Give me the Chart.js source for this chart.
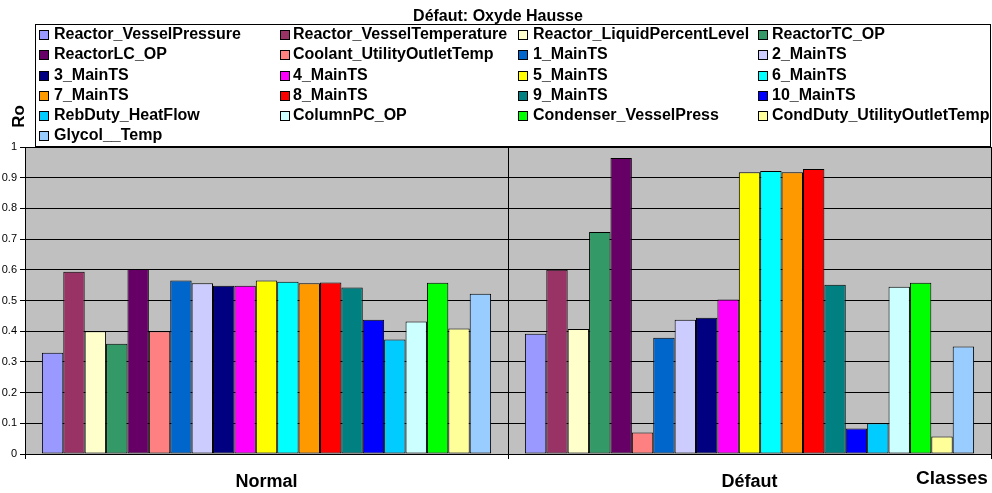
<!DOCTYPE html>
<html>
<head>
<meta charset="utf-8">
<script src="https://cdn.jsdelivr.net/npm/chart.js@4/dist/chart.umd.min.js"></script>
<style>
  html, body { margin: 0; padding: 0; background: #ffffff; }
  #wrap { width: 992px; height: 493px; }
</style>
</head>
<body>
<div id="wrap"><canvas id="c" width="992" height="493"></canvas></div>
<script>
const chartTitle = 'Défaut: Oxyde Hausse';
const yAxisTitle = 'Ro';
const xAxisTitle = 'Classes';
const categories = ['Normal', 'Défaut'];
const seriesNames = [
  'Reactor_VesselPressure', 'Reactor_VesselTemperature', 'Reactor_LiquidPercentLevel', 'ReactorTC_OP',
  'ReactorLC_OP', 'Coolant_UtilityOutletTemp', '1_MainTS', '2_MainTS',
  '3_MainTS', '4_MainTS', '5_MainTS', '6_MainTS',
  '7_MainTS', '8_MainTS', '9_MainTS', '10_MainTS',
  'RebDuty_HeatFlow', 'ColumnPC_OP', 'Condenser_VesselPress', 'CondDuty_UtilityOutletTemp',
  'Glycol__Temp'
];
const normalValues = [0.330, 0.594, 0.400, 0.359, 0.603, 0.400, 0.565, 0.556, 0.548, 0.548, 0.565,
                      0.561, 0.556, 0.559, 0.542, 0.437, 0.373, 0.432, 0.558, 0.409, 0.522];
const defautValues = [0.392, 0.600, 0.407, 0.723, 0.964, 0.070, 0.379, 0.437, 0.444, 0.503, 0.918,
                      0.922, 0.918, 0.928, 0.551, 0.083, 0.100, 0.545, 0.558, 0.057, 0.350];
const seriesColors = [
  '#9999FF', '#993366', '#FFFFCC', '#339966', '#660066', '#FF8080', '#0066CC', '#CCCCFF',
  '#000080', '#FF00FF', '#FFFF00', '#00FFFF', '#FF9900', '#FF0000', '#008080', '#0000FF',
  '#00CCFF', '#CCFFFF', '#00FF00', '#FFFF99', '#99CCFF'
];

const FONT = 'Arial, "Liberation Sans", Helvetica, sans-serif';

const datasets = seriesNames.map((name, i) => ({
  label: name,
  data: [normalValues[i], defautValues[i]],
  backgroundColor: seriesColors[i],
  borderColor: '#000000',
  borderWidth: 1,
  borderSkipped: false,
  categoryPercentage: 0.93,
  barPercentage: 1.0
}));

const plotBg = {
  id: 'plotBg',
  beforeDraw(chart) {
    const { ctx, chartArea: a } = chart;
    ctx.save();
    ctx.fillStyle = '#C0C0C0';
    ctx.fillRect(a.left, a.top, a.right - a.left, a.bottom - a.top);
    ctx.restore();
  }
};

const extras = {
  id: 'extras',
  afterDraw(chart) {
    const ctx = chart.ctx;
    ctx.save();
    // title
    ctx.fillStyle = '#000';
    ctx.font = 'bold 16px ' + FONT;
    ctx.textAlign = 'center';
    ctx.textBaseline = 'middle';
    ctx.fillText(chartTitle, 498, 16.5);

    // legend box
    ctx.fillStyle = '#ffffff';
    ctx.fillRect(35.5, 24.5, 955, 122);
    ctx.strokeStyle = '#000';
    ctx.lineWidth = 1;
    ctx.strokeRect(35.5, 24.5, 955, 122);

    const colSwatch = [39, 280, 518, 758];
    const colText = [54, 293, 533, 772];
    const rowY = [35, 55, 76, 96, 116, 136];
    ctx.font = 'bold 16px ' + FONT;
    ctx.textAlign = 'left';
    ctx.textBaseline = 'middle';
    chart.data.datasets.forEach((ds, i) => {
      const col = i % 4, row = Math.floor(i / 4);
      const y = rowY[row];
      ctx.fillStyle = ds.backgroundColor;
      ctx.fillRect(colSwatch[col] + 0.5, y - 4.5, 9, 9);
      ctx.strokeStyle = '#000';
      ctx.strokeRect(colSwatch[col] + 0.5, y - 4.5, 9, 9);
      ctx.fillStyle = '#000';
      ctx.fillText(ds.label, colText[col], y - 0.5);
    });

    // y axis title (rotated)
    ctx.save();
    ctx.translate(19, 116.5);
    ctx.rotate(-Math.PI / 2);
    ctx.font = 'bold 17px ' + FONT;
    ctx.textAlign = 'center';
    ctx.textBaseline = 'middle';
    ctx.fillStyle = '#000';
    ctx.fillText(yAxisTitle, 0, 0);
    ctx.restore();

    // x axis title
    ctx.font = 'bold 19px ' + FONT;
    ctx.textAlign = 'center';
    ctx.textBaseline = 'middle';
    ctx.fillStyle = '#000';
    ctx.fillText(xAxisTitle, 952, 479);
    ctx.restore();
  }
};

new Chart(document.getElementById('c'), {
  type: 'bar',
  data: { labels: categories, datasets },
  options: {
    responsive: false,
    animation: false,
    events: [],
    layout: { padding: { top: 147, right: 1, left: 0, bottom: 0 } },
    plugins: {
      legend: { display: false },
      title: { display: false },
      tooltip: { enabled: false }
    },
    scales: {
      x: {
        afterFit(scale) { scale.height = 39; },
        grid: { color: '#000000', lineWidth: 1, tickLength: 5, offset: true, drawOnChartArea: true },
        border: { color: '#000000', width: 1 },
        ticks: { color: '#000', font: { family: FONT, size: 18, weight: 'bold' }, padding: 12 }
      },
      y: {
        min: 0, max: 1,
        afterFit(scale) { scale.width = 25; },
        grid: { color: '#000000', lineWidth: 1, tickLength: 5 },
        border: { color: '#000000', width: 1 },
        ticks: {
          stepSize: 0.1, color: '#000', font: { family: FONT, size: 11 }, padding: 3,
          callback: (v) => String(Math.round(v * 10) / 10)
        }
      }
    }
  },
  plugins: [plotBg, extras]
});
</script>
</body>
</html>
